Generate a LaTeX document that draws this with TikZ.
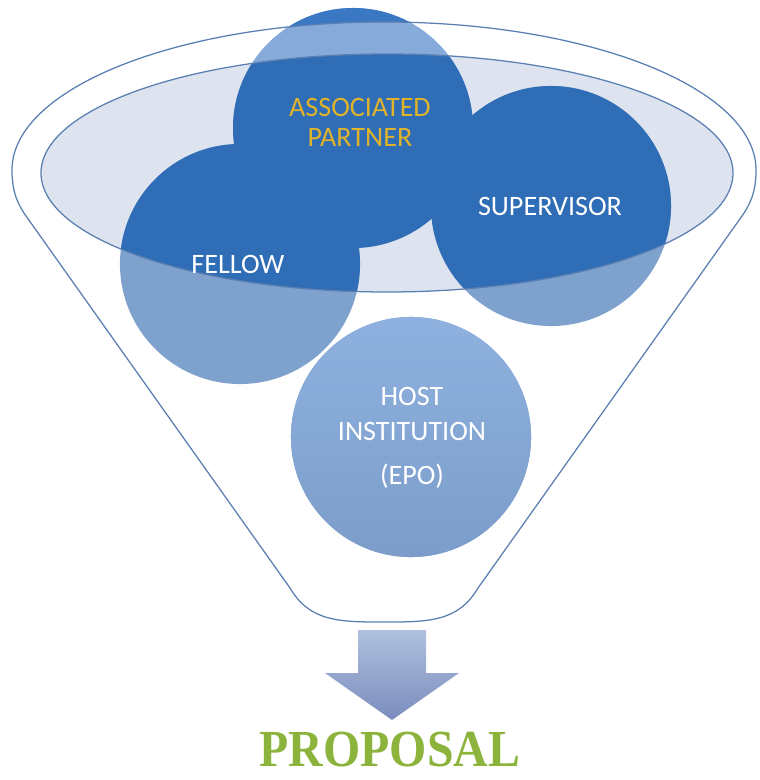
\documentclass[tikz,border=0pt]{standalone}
\usepackage{fontspec}
\setmainfont{Carlito}
\newfontfamily\propfont{Liberation Serif}
\definecolor{funilborda}{HTML}{5A7FB2}
\definecolor{elipsefundo}{HTML}{DEE4EF}
\definecolor{azulescuro}{HTML}{2F6DB6}
\definecolor{azulmedio}{HTML}{3B78C4}
\definecolor{azulclaro}{HTML}{7EA1CD}
\definecolor{azulfaixa}{HTML}{86AADA}
\definecolor{hosttopo}{HTML}{8EB1DF}
\definecolor{hostbase}{HTML}{7C9DCA}
\definecolor{ouro}{HTML}{E0B32A}
\definecolor{verdeprop}{HTML}{8CB43C}
\definecolor{setatopo}{HTML}{B0C0DF}
\definecolor{setabase}{HTML}{7A8CBD}
\begin{document}
\begin{tikzpicture}[x=0.025cm, y=-0.025cm,
  bola/.style={circle, minimum size=6cm, inner sep=0pt, fill=azulclaro},
  rotulo/.style={text=white, align=center, font=\fontsize{20}{25}\selectfont},
  funil/.style={draw=funilborda, line width=0.9pt}]
  \useasboundingbox (0,0) rectangle (760,780);

  % Fundo da elipse
  \fill[elipsefundo] (387,173) ellipse [x radius=346, y radius=119];

  % Círculos
  \node[bola] (fellow) at (240,264) {};
  \node[bola] (supervisor) at (551,206) {};
  \node[bola, top color=hosttopo, bottom color=hostbase] (host) at (411,437) {};
  \node[bola, fill=azulfaixa] (partner) at (353,128) {};

  % Parte dentro da elipse
  \begin{scope}
    \clip (387,173) ellipse [x radius=346, y radius=119];
    \fill[azulescuro] (fellow.center) circle [radius=120];
    \fill[azulescuro] (supervisor.center) circle [radius=120];
    \fill[azulescuro] (partner.center) circle [radius=120];
  \end{scope}
  \begin{scope}
    \clip (0,0) -- (0,170) -- (12,170) arc [start angle=180, end angle=360, x radius=372, y radius=148] -- (760,170) -- (760,0) -- cycle;
    \fill[azulmedio] (partner.center) circle [radius=120];
  \end{scope}

  % Funil
  \draw[funil] (387,173) ellipse [x radius=346, y radius=119];
  \draw[funil] (290,588) -- (26,216) .. controls (14,199) and (12,185) .. (12,170)
    arc [start angle=180, end angle=360, x radius=372, y radius=148]
    .. controls (756,185) and (754,199) .. (742,216) -- (478,588)
    .. controls (458,622) and (428,622) .. (384,622)
    .. controls (340,622) and (310,622) .. (290,588) -- cycle;

  % Textos
  \node[rotulo, text=ouro, font=\fontsize{20}{21.5}\selectfont] (partnertxt) at (360,122) {ASSOCIATED\\PARTNER};
  \node[rotulo] (fellowtxt) at (238,264) {FELLOW};
  \node[rotulo] (supervisortxt) at (550,206) {SUPERVISOR};
  \node[rotulo] (hosttxt) at (412,438) {HOST\\INSTITUTION\\[6pt](EPO)};

  % Seta e resultado
  \shade[top color=setatopo, bottom color=setabase] (358,630) -- (426,630) -- (426,673) -- (459,673)
    -- (392,720) -- (325,673) -- (358,673) -- cycle;
  \node[text=verdeprop, inner sep=0pt, font=\propfont\bfseries\fontsize{37}{37}\selectfont] (proposal) at (390,750) {\scalebox{0.92}[1]{PROPOSAL}};
\end{tikzpicture}
\end{document}
